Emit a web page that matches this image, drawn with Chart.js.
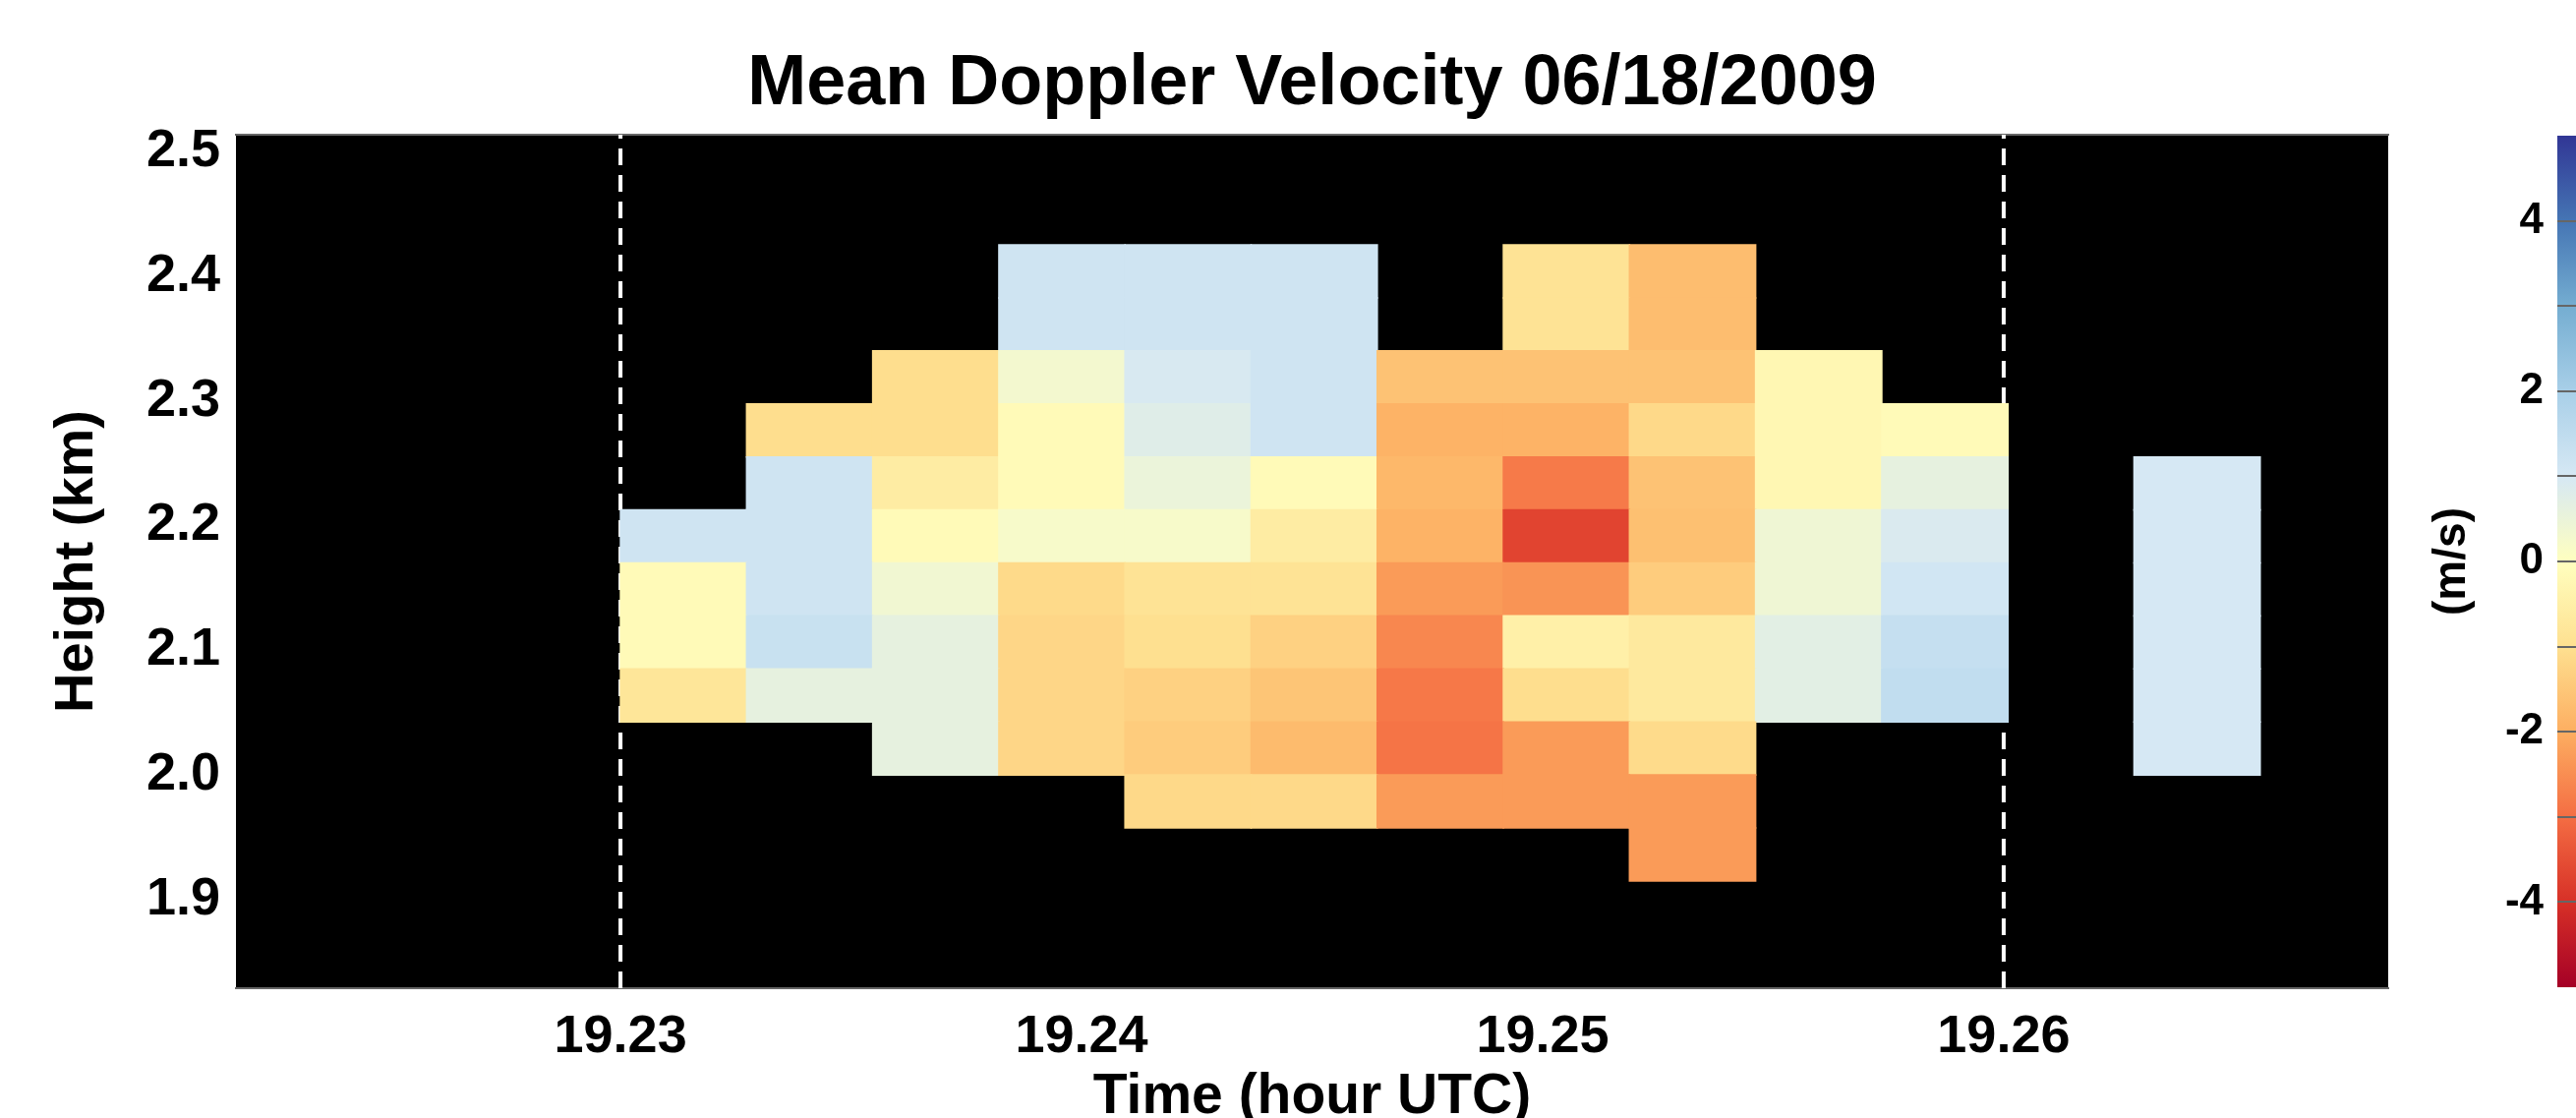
<!DOCTYPE html>
<html lang="en">
<head>
<meta charset="utf-8">
<title>Mean Doppler Velocity 06/18/2009</title>
<script src="https://cdn.jsdelivr.net/npm/chart.js@4.4.1/dist/chart.umd.min.js"></script>
<style>
    html, body {
        margin: 0;
        padding: 0;
        width: 2620px;
        height: 1137px;
        overflow: hidden;
        background: #ffffff;
    }
    #velocityChart { position: absolute; left: 0; top: 0; }
    #colorbarChart { position: absolute; left: 2460px; top: 0; }
</style>
</head>
<body>
<canvas id="velocityChart" width="2440" height="1180"></canvas>
<canvas id="colorbarChart" width="180" height="1137"></canvas>
<script>
// ===========================
// Data
// ===========================
// centre time (hour UTC) of each radar profile
const timeCenters = [
    19.231368, 19.234103, 19.236839, 19.239575, 19.24231, 19.245046, 19.247781,
    19.250517, 19.253252, 19.255988, 19.258724, 19.261459, 19.264195,
];
// centre height (km) of each range gate, top to bottom
const heightCenters = [
    2.40375, 2.36125, 2.31875, 2.27625, 2.23375, 2.19125,
    2.14875, 2.10625, 2.06375, 2.02125, 1.97875, 1.93625,
];
const gateHalfDepth = 0.02125;

// mean Doppler velocity (m/s), one row per height (top to bottom), one column per time
const velocity = [
    [null, null, null, 1.15, 1.15, 1.15, null, -0.9, -1.7, null, null, null, null],
    [null, null, null, 1.15, 1.15, 1.15, null, -0.9, -1.7, null, null, null, null],
    [null, null, -1.05, 0.3, 0.95, 1.15, -1.6, -1.6, -1.6, -0.25, null, null, null],
    [null, -1.05, -1.05, -0.15, 0.78, 1.15, -1.9, -1.9, -1.15, -0.25, -0.15, null, null],
    [null, 1.15, -0.6, -0.15, 0.5, -0.15, -1.8, -2.8, -1.6, -0.25, 0.6, null, 1.0],
    [1.15, 1.15, -0.15, 0.2, 0.2, -0.6, -1.9, -3.67, -1.65, 0.4, 0.9, null, 1.0],
    [-0.15, 1.15, 0.35, -1.12, -0.9, -0.9, -2.3, -2.4, -1.4, 0.4, 1.1, null, 1.0],
    [-0.15, 1.3, 0.6, -1.2, -1.0, -1.3, -2.6, -0.5, -0.7, 0.7, 1.37, null, 1.0],
    [-0.8, 0.6, 0.6, -1.2, -1.3, -1.55, -2.83, -1.05, -0.7, 0.7, 1.45, null, 1.0],
    [null, null, 0.6, -1.2, -1.4, -1.75, -2.9, -2.3, -1.1, null, null, null, 1.0],
    [null, null, null, null, -1.15, -1.15, -2.3, -2.3, -2.3, null, null, null, null],
    [null, null, null, null, null, null, null, null, -2.3, null, null, null, null],
];

const timeTicks = [19.23, 19.24, 19.25, 19.26];
const heightTicks = [1.9, 2.0, 2.1, 2.2, 2.3, 2.4, 2.5];
const markerTimes = [19.23, 19.26];
const timeRange = [19.22166, 19.26834];
const heightRange = [1.829, 2.5134];

const velocityRange = [-5, 5];
const velocityTicks = [-4, -2, 0, 2, 4];
const velocityMinorTicks = [-3, -1, 1, 3];

// red-yellow-blue colour table
const cmapStops = [-5, -4, -3, -2, -1, 0, 1, 2, 3, 4, 5];
const cmapColors = [
    "#a50026", "#d73027", "#f46d43", "#fdae61", "#fee090", "#ffffbf",
    "#d6e8f4", "#a8cfe8", "#74add1", "#4575b4", "#313695",
];

const FONT = "'Liberation Sans', Arial, Helvetica, sans-serif";

function hexToRgb(hex) {
    const n = parseInt(hex.slice(1), 16);
    return [(n >> 16) & 255, (n >> 8) & 255, n & 255];
}

function velocityColor(v) {
    const last = cmapStops.length - 1;
    if (v <= cmapStops[0]) return cmapColors[0];
    if (v >= cmapStops[last]) return cmapColors[last];
    let i = 0;
    while (v > cmapStops[i + 1]) i++;
    const t = (v - cmapStops[i]) / (cmapStops[i + 1] - cmapStops[i]);
    const a = hexToRgb(cmapColors[i]);
    const b = hexToRgb(cmapColors[i + 1]);
    const c = a.map((ch, k) => Math.round(ch + (b[k] - ch) * t));
    return `rgb(${c[0]}, ${c[1]}, ${c[2]})`;
}

document.addEventListener("DOMContentLoaded", function () {
    "use strict";

    // ===========================
    // Cells (floating bars)
    // ===========================
    const cells = [];
    const cellColors = [];
    velocity.forEach((row, r) => {
        row.forEach((v, c) => {
            if (v === null) return;
            const h = heightCenters[r];
            cells.push({ x: timeCenters[c], y: [h - gateHalfDepth, h + gateHalfDepth] });
            cellColors.push(velocityColor(v));
        });
    });

    const plotBackground = {
        id: "plotBackground",
        beforeDraw(chart) {
            const { ctx, chartArea } = chart;
            ctx.save();
            ctx.fillStyle = "#000000";
            ctx.fillRect(chartArea.left, chartArea.top, chartArea.width, chartArea.height);
            ctx.restore();
        },
    };

    // ===========================
    // Main velocity chart
    // ===========================
    new Chart(document.getElementById("velocityChart"), {
        type: "bar",
        data: {
            datasets: [
                {
                    type: "bar",
                    data: cells,
                    backgroundColor: cellColors,
                    borderWidth: 0,
                    inflateAmount: 0.8,
                    grouped: false,
                    barPercentage: 1,
                    categoryPercentage: 1,
                    order: 0,
                },
                ...markerTimes.map((t) => ({
                    type: "line",
                    data: [
                        { x: t, y: heightRange[0] },
                        { x: t, y: heightRange[1] },
                    ],
                    borderColor: "#ffffff",
                    borderWidth: 4,
                    borderDash: [17, 10],
                    pointRadius: 0,
                    order: 1,
                })),
            ],
        },
        options: {
            responsive: false,
            animation: false,
            layout: { padding: { top: 0, left: 0, right: 11, bottom: 0 } },
            plugins: {
                legend: { display: false },
                tooltip: { enabled: false },
                title: {
                    display: true,
                    fullSize: false,
                    text: "Mean Doppler Velocity 06/18/2009",
                    color: "#000000",
                    font: { family: FONT, size: 72, weight: "bold" },
                    padding: { top: 43, bottom: 7.6 },
                },
            },
            scales: {
                x: {
                    type: "linear",
                    min: timeRange[0],
                    max: timeRange[1],
                    offset: false,
                    afterBuildTicks: (s) => {
                        s.ticks = timeTicks.map((v) => ({ value: v }));
                    },
                    afterFit: (s) => {
                        s.height = 175;
                    },
                    grid: { display: false, drawTicks: false },
                    border: { display: true, color: "#666666", width: 2 },
                    ticks: {
                        padding: 18,
                        color: "#000000",
                        maxRotation: 0,
                        autoSkip: false,
                        font: { family: FONT, size: 54, weight: "bold" },
                        callback: (v) => Number(v).toFixed(2),
                    },
                    title: {
                        display: true,
                        text: "Time (hour UTC)",
                        color: "#000000",
                        font: { family: FONT, size: 57, weight: "bold" },
                        padding: { top: 0, bottom: 30 },
                    },
                },
                xTop: {
                    type: "linear",
                    position: "top",
                    min: timeRange[0],
                    max: timeRange[1],
                    offset: false,
                    afterFit: (s) => {
                        s.height = 0;
                    },
                    grid: { display: false, drawTicks: false },
                    border: { display: true, color: "#666666", width: 2 },
                    ticks: { display: false },
                },
                y: {
                    type: "linear",
                    min: heightRange[0],
                    max: heightRange[1],
                    afterBuildTicks: (s) => {
                        s.ticks = heightTicks.map((v) => ({ value: v }));
                    },
                    afterFit: (s) => {
                        s.width = 240;
                    },
                    grid: { display: false, drawTicks: false },
                    border: { display: false },
                    ticks: {
                        padding: 16,
                        color: "#000000",
                        font: { family: FONT, size: 54, weight: "bold" },
                        callback: (v) => Number(v).toFixed(1),
                    },
                    title: {
                        display: true,
                        text: "Height (km)",
                        color: "#000000",
                        font: { family: FONT, size: 56, weight: "bold" },
                        padding: { top: 45, bottom: 0 },
                    },
                },
            },
        },
        plugins: [plotBackground],
    });

    // ===========================
    // Colour bar
    // ===========================
    new Chart(document.getElementById("colorbarChart"), {
        type: "bar",
        data: {
            labels: ["velocity"],
            datasets: [
                {
                    data: [velocityRange],
                    borderWidth: 0,
                    barPercentage: 1,
                    categoryPercentage: 1,
                    backgroundColor: (ctx) => {
                        const y = ctx.chart.scales.y;
                        if (!y) return cmapColors[5];
                        const y0 = y.getPixelForValue(cmapStops[0]);
                        const y1 = y.getPixelForValue(cmapStops[cmapStops.length - 1]);
                        if (!Number.isFinite(y0) || !Number.isFinite(y1) || y0 === y1) return cmapColors[5];
                        const g = ctx.chart.ctx.createLinearGradient(0, y0, 0, y1);
                        cmapColors.forEach((col, i) => g.addColorStop(i / (cmapColors.length - 1), col));
                        return g;
                    },
                },
            ],
        },
        options: {
            responsive: false,
            animation: false,
            layout: { padding: { top: 138, bottom: 133, left: 0, right: 0 } },
            plugins: {
                legend: { display: false },
                tooltip: { enabled: false },
            },
            scales: {
                x: { display: false },
                y: {
                    min: velocityRange[0],
                    max: velocityRange[1],
                    afterBuildTicks: (s) => {
                        s.ticks = velocityTicks
                            .concat(velocityMinorTicks)
                            .sort((a, b) => a - b)
                            .map((v) => ({ value: v }));
                    },
                    afterFit: (s) => {
                        s.width = 141;
                    },
                    grid: { drawTicks: false, color: "#666666", lineWidth: 2, z: 1 },
                    border: { display: false },
                    ticks: {
                        padding: 14,
                        color: "#000000",
                        font: { family: FONT, size: 44, weight: "bold" },
                        callback: (v) => (velocityTicks.includes(v) ? String(v) : ""),
                    },
                    title: {
                        display: true,
                        text: "(m/s)",
                        color: "#000000",
                        font: { family: FONT, size: 46, weight: "bold" },
                        padding: { top: 7, bottom: 0 },
                    },
                },
            },
        },
    });
});
</script>
</body>
</html>
